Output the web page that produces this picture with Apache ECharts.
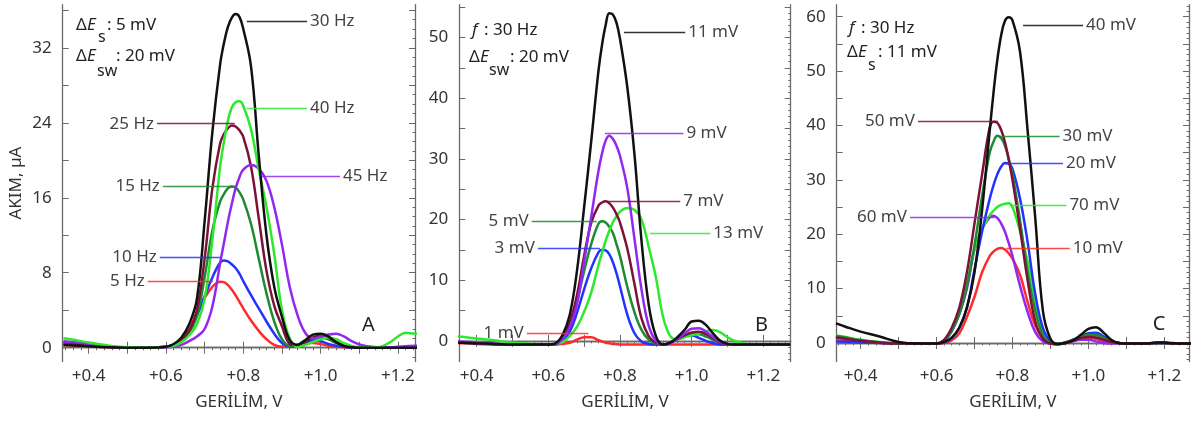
<!DOCTYPE html>
<html><head><meta charset="utf-8">
<script src="https://cdn.jsdelivr.net/npm/echarts@6/dist/echarts.min.js"></script>
<style>html,body{margin:0;padding:0;background:#fff}#c{width:1199px;height:421px}</style>
</head><body><div id="c"></div>
<script>
// ---------- DATA ----------
const potential = [0.335,0.36,0.40,0.45,0.50,0.55,0.60,0.62,0.64,0.66,0.68,0.70,0.72,0.74,0.75,0.76,0.77,0.78,0.79,0.80,0.82,0.84,0.86,0.88,0.90,0.92,0.94,0.96,0.98,1.00,1.02,1.04,1.06,1.08,1.10,1.12,1.15,1.18,1.20,1.22,1.245,1.275];

// Panel A : frequency (ΔEs 5 mV, ΔEsw 20 mV)
const A_5Hz  = [0.3,0.25,0.15,0.05,0,0,0.1,0.3,0.8,1.9,3.8,5.3,6.5,7.05,7.0,6.7,6.2,5.6,4.9,4.2,2.9,1.8,0.9,0.3,0.1,0.1,0.3,0.5,0.5,0.4,0.2,0.1,0.05,0,0,0,0,0,0,0,0,0];
const A_10Hz = [0.4,0.35,0.2,0.1,0,0,0.1,0.3,0.8,1.8,3.4,5.5,7.5,9.1,9.3,9.2,8.9,8.5,7.9,7.1,5.6,4.2,2.8,1.5,0.5,0.15,0.3,0.6,0.8,0.7,0.4,0.2,0.1,0,0,0,0,0,0,0,0,0];
const A_15Hz = [0.5,0.4,0.25,0.1,0,0,0.1,0.3,0.7,1.6,3.4,7.5,12.5,15.6,16.4,17.0,17.2,17.1,16.6,15.8,13.2,9.5,5.8,2.8,0.9,0.2,0.3,0.8,1.0,1.1,0.9,0.5,0.2,0.05,0,0,0,0,0,0,0,0];
const A_25Hz = [0.6,0.5,0.3,0.1,0,0,0.1,0.3,0.8,1.8,4.0,9.5,17.0,21.8,22.8,23.4,23.7,23.6,23.2,22.5,19.3,13.8,8.2,4.5,2.3,0.4,0.2,0.6,1.1,1.3,1.1,0.6,0.2,0.05,0,0,0,0,0,0,0,0];
const A_30Hz = [0.3,0.25,0.15,0.05,0,0,0.1,0.4,1.1,2.5,5.2,13.5,23.0,30.2,32.5,34.2,35.2,35.6,35.3,34.0,30.0,20.5,12.0,6.5,3.3,0.8,0.3,0.8,1.4,1.5,1.2,0.6,0.2,0.05,0,0,0,0,0,0,0,0];
const A_40Hz = [1.0,0.85,0.55,0.25,0.05,0,0.1,0.2,0.6,1.3,2.5,5.2,11.5,19.3,22.0,24.2,25.6,26.2,26.3,25.8,23.3,19.0,15.0,10.0,4.0,1.0,0.1,0.3,0.6,0.9,1.1,0.9,0.5,0.2,0.05,0,0.05,0.6,1.2,1.6,1.5,1.5];
const A_45Hz = [0.7,0.6,0.4,0.15,0,0,0.05,0.1,0.3,0.7,1.2,2.0,4.4,9.0,11.2,13.4,15.3,17.0,18.2,19.0,19.5,19.1,17.8,15.0,11.0,6.5,3.5,1.6,1.0,1.2,1.4,1.5,1.2,0.7,0.35,0.15,0.05,0.05,0.1,0.15,0.2,0.2];

// Panel B : step potential ΔEs (f 30 Hz, ΔEsw 20 mV)
const B_1mV  = [-0.4,-0.4,-0.5,-0.6,-0.6,-0.6,-0.6,-0.6,-0.5,-0.3,0.2,0.6,0.6,0.1,-0.1,-0.3,-0.4,-0.5,-0.55,-0.6,-0.6,-0.6,-0.6,-0.6,-0.6,-0.6,-0.6,-0.6,-0.6,-0.6,-0.6,-0.6,-0.6,-0.6,-0.6,-0.6,-0.6,-0.6,-0.6,-0.6,-0.6,-0.6];
const B_3mV  = [-0.3,-0.3,-0.4,-0.5,-0.6,-0.6,-0.6,-0.6,0.0,1.5,4.6,8.5,12.0,14.6,15.0,14.9,14.3,13.0,11.2,9.0,4.4,1.3,-0.1,-0.5,-0.6,-0.6,-0.3,0.3,0.8,0.9,0.5,0.0,-0.4,-0.6,-0.6,-0.6,-0.6,-0.6,-0.6,-0.6,-0.6,-0.6];
const B_5mV  = [-0.3,-0.3,-0.4,-0.5,-0.6,-0.6,-0.6,-0.5,0.5,2.8,6.5,11.5,16.0,19.3,19.7,19.5,18.8,17.8,16.0,14.0,9.0,4.8,1.8,0.2,-0.4,-0.6,-0.3,0.3,0.8,1.1,1.1,0.7,0.2,-0.3,-0.6,-0.6,-0.6,-0.6,-0.6,-0.6,-0.6,-0.6];
const B_7mV  = [-0.3,-0.3,-0.4,-0.5,-0.6,-0.6,-0.6,-0.5,0.5,3.0,7.5,14.0,19.5,22.3,22.8,23.0,22.7,22.0,20.9,19.5,15.3,9.5,3.7,0.8,-0.3,-0.6,-0.3,0.3,0.9,1.4,1.5,1.1,0.4,-0.3,-0.6,-0.6,-0.6,-0.6,-0.6,-0.6,-0.6,-0.6];
const B_9mV  = [-0.1,-0.1,-0.3,-0.5,-0.6,-0.6,-0.6,-0.5,0.3,2.2,6.0,13.0,20.5,28.0,30.9,33.0,33.8,33.3,32.2,30.5,25.3,17.0,8.5,2.5,0.0,-0.6,-0.4,0.3,1.2,2.0,2.1,1.5,0.6,-0.2,-0.6,-0.6,-0.6,-0.6,-0.6,-0.6,-0.6,-0.6];
const B_11mV = [-0.3,-0.3,-0.4,-0.5,-0.6,-0.6,-0.6,-0.4,1.0,4.3,11.5,22.0,33.0,44.5,48.8,52.0,54.0,53.8,52.5,49.8,42.0,31.0,16.5,6.0,0.8,-0.6,-0.3,0.6,1.8,3.2,3.3,2.6,1.2,0.0,-0.5,-0.6,-0.6,-0.6,-0.6,-0.6,-0.6,-0.6];
const B_13mV = [0.8,0.66,0.4,0.1,-0.3,-0.5,-0.6,-0.5,-0.2,0.8,2.3,4.8,8.0,12.5,14.5,16.5,18.1,19.5,20.5,21.3,21.9,21.6,20.0,15.5,10.5,4.0,0.8,0.2,0.6,0.9,1.2,1.6,1.8,1.4,0.6,0.0,-0.5,-0.6,-0.6,-0.6,-0.6,-0.6];

// Panel C : amplitude ΔEsw (f 30 Hz, ΔEs 11 mV)
const C_10mV = [0.5,0.4,0.2,0.0,-0.1,-0.1,-0.1,0.0,0.5,1.8,4.8,8.5,13.0,16.0,16.8,17.3,17.45,17.2,16.5,15.5,12.5,7.5,3.2,0.8,-0.1,-0.2,0.0,0.4,0.8,1.0,0.8,0.4,0.1,0.0,-0.1,-0.1,-0.1,0.0,0.0,-0.1,-0.1,-0.1];
const C_20mV = [0.3,0.25,0.1,0.0,-0.1,-0.1,-0.1,0.1,0.9,2.8,6.5,13.5,20.5,26.5,29.0,31.0,32.4,33.1,33.0,32.0,26.5,18.5,9.0,2.8,0.3,-0.2,0.1,0.6,1.2,1.8,1.9,1.2,0.4,0.0,-0.1,-0.1,-0.1,0.0,0.0,-0.1,-0.1,-0.1];
const C_30mV = [1.3,1.0,0.5,0.1,-0.1,-0.1,-0.1,0.4,2.2,5.3,10.5,18.0,27.0,35.0,37.0,38.1,37.7,36.3,33.9,31.0,22.5,13.0,6.0,1.5,0.0,-0.2,0.1,0.6,1.1,1.5,1.5,0.9,0.3,0.0,-0.1,-0.1,-0.1,0.0,0.0,-0.1,-0.1,-0.1];
const C_40mV = [3.6,3.0,2.1,1.2,0.2,-0.1,-0.1,0.2,1.0,2.8,6.5,13.0,24.5,39.0,46.0,52.0,56.5,59.2,59.9,59.3,53.5,39.0,23.0,6.0,0.8,-0.2,0.0,0.5,1.5,2.6,2.9,1.9,0.6,0.0,-0.1,-0.1,-0.1,0.1,0.1,0.0,-0.1,-0.1];
const C_50mV = [1.0,0.8,0.4,0.1,-0.1,-0.1,-0.1,0.6,2.8,6.5,13.0,22.0,31.0,39.6,40.7,40.5,39.2,37.0,33.8,30.0,21.0,11.5,4.0,0.8,-0.1,-0.2,0.1,0.5,0.9,1.1,1.0,0.6,0.2,0.0,-0.1,-0.1,-0.1,0.0,0.0,-0.1,-0.1,-0.1];
const C_60mV = [1.1,0.8,0.4,0.1,-0.1,-0.1,-0.1,0.4,2.2,5.3,10.0,17.2,21.0,23.1,23.4,23.0,22.0,20.5,18.4,16.0,10.5,5.7,2.0,0.3,-0.1,-0.2,0.0,0.3,0.6,0.6,0.3,0.0,-0.1,-0.1,-0.1,-0.1,-0.1,0.0,0.0,-0.1,-0.1,-0.1];
const C_70mV = [1.4,1.1,0.6,0.2,0.0,-0.1,-0.1,0.5,2.2,6.0,11.0,17.3,21.0,23.5,24.3,25.0,25.4,25.6,25.7,25.0,20.5,15.0,8.0,2.5,0.4,-0.1,0.1,0.6,1.1,1.4,1.4,0.9,0.3,0.0,-0.1,-0.1,-0.1,0.0,0.0,-0.1,-0.1,-0.1];

// tick labels
const xLabelValues = [0.4, 0.6, 0.8, 1.0, 1.2];
const xTickValues = [0.4, 0.5, 0.6, 0.7, 0.8, 0.9, 1.0, 1.1, 1.2];
const A_yLabels = [0, 8, 16, 24, 32];
const A_yTicks = [0, 4, 8, 12, 16, 20, 24, 28, 32, 36];
const B_yLabels = [0, 10, 20, 30, 40, 50];
const B_yTicks = [0, 5, 10, 15, 20, 25, 30, 35, 40, 45, 50, 55];
const C_yLabels = [0, 10, 20, 30, 40, 50, 60];
const C_yTicks = [0, 5, 10, 15, 20, 25, 30, 35, 40, 45, 50, 55, 60];

// ---------- STYLE / LAYOUT ----------
const FONT = 'Noto Sans';
const COL = {black:'#111111', red:'#ff2b2b', blue:'#2233ff', dgreen:'#1e8a32', maroon:'#7d1238', green:'#2ee82e', purple:'#9228f0'};
const panels = [
  {left:62.7, width:352.3, xmin:0.333, xmax:1.244, ymin:-1.47, ymax:36.6, yLabels:A_yLabels, yTicks:A_yTicks, yMinorStep:1, yName:'AKIM, µA'},
  {left:459.3, width:331.4, xmin:0.352, xmax:1.276, ymin:-3.4, ymax:55.4, yLabels:B_yLabels, yTicks:B_yTicks, yMinorStep:1, yName:''},
  {left:836.7, width:352.3, xmin:0.337, xmax:1.265, ymin:-3.4, ymax:62.2, yLabels:C_yLabels, yTicks:C_yTicks, yMinorStep:1, yName:''}
];
// series: [panel, name, values, color, leader {x1,x2,y,side}]
const seriesDefs = [
  [0,'5 Hz',A_5Hz,COL.red,{x1:0.553,x2:0.722,y:7.05,side:'start'}],
  [0,'10 Hz',A_10Hz,COL.blue,{x1:0.584,x2:0.740,y:9.66,side:'start'}],
  [0,'15 Hz',A_15Hz,COL.dgreen,{x1:0.592,x2:0.773,y:17.2,side:'start'}],
  [0,'25 Hz',A_25Hz,COL.maroon,{x1:0.577,x2:0.778,y:23.9,side:'start'}],
  [0,'45 Hz',A_45Hz,COL.purple,{x1:0.848,x2:1.050,y:18.3,side:'end'}],
  [0,'40 Hz',A_40Hz,COL.green,{x1:0.809,x2:0.965,y:25.6,side:'end'}],
  [0,'30 Hz',A_30Hz,COL.black,{x1:0.809,x2:0.965,y:34.8,side:'end'}],

  [1,'1 mV',B_1mV,COL.red,{x1:0.540,x2:0.712,y:1.3,side:'start'}],
  [1,'3 mV',B_3mV,COL.blue,{x1:0.571,x2:0.744,y:15.3,side:'start'}],
  [1,'5 mV',B_5mV,COL.dgreen,{x1:0.554,x2:0.735,y:19.7,side:'start'}],
  [1,'13 mV',B_13mV,COL.green,{x1:0.884,x2:1.052,y:17.8,side:'end'}],
  [1,'7 mV',B_7mV,COL.maroon,{x1:0.763,x2:0.968,y:23.0,side:'end'}],
  [1,'9 mV',B_9mV,COL.purple,{x1:0.758,x2:0.977,y:34.2,side:'end'}],
  [1,'11 mV',B_11mV,COL.black,{x1:0.811,x2:0.982,y:50.9,side:'end'}],

  [2,'10 mV',C_10mV,COL.red,{x1:0.784,x2:0.951,y:17.45,side:'end'}],
  [2,'60 mV',C_60mV,COL.purple,{x1:0.530,x2:0.753,y:23.1,side:'start'}],
  [2,'70 mV',C_70mV,COL.green,{x1:0.793,x2:0.942,y:25.4,side:'end'}],
  [2,'20 mV',C_20mV,COL.blue,{x1:0.780,x2:0.933,y:33.1,side:'end'}],
  [2,'30 mV',C_30mV,COL.dgreen,{x1:0.762,x2:0.924,y:38.1,side:'end'}],
  [2,'50 mV',C_50mV,COL.maroon,{x1:0.551,x2:0.762,y:40.8,side:'start'}],
  [2,'40 mV',C_40mV,COL.black,{x1:0.828,x2:0.986,y:58.35,side:'end'}]
];

function steps(lo, hi, step) { const out = []; for (let k = Math.ceil(lo / step); k * step <= hi + 1e-9; k++) out.push(+(k * step).toFixed(4)); return out; }

const AXIS_COLOR = '#6a6a6a';
const grid = [], xAxis = [], yAxis = [];
const xIdx = [], yIdx = [];
panels.forEach((p, i) => {
  grid.push({left:p.left, top:4.7, width:p.width, height:356.8, containLabel:false});
  const xBase = {gridIndex:i, type:'value', min:p.xmin, max:p.xmax, splitLine:{show:false}};
  const yBase = {gridIndex:i, type:'value', min:p.ymin, max:p.ymax, splitLine:{show:false}};
  xIdx.push(xAxis.length);
  xAxis.push(Object.assign({}, xBase, {position:'bottom',
    axisLine:{show:true, lineStyle:{color:AXIS_COLOR, width:1.3}},
    axisTick:{show:true, inside:true, length:6, customValues:xTickValues, lineStyle:{color:AXIS_COLOR}},
    axisLabel:{show:true, customValues:xLabelValues, margin:6, color:'#333', fontFamily:FONT, fontSize:17,
      formatter:v => '+' + Number(v).toFixed(1)},
    name:'GERİLİM, V', nameLocation:'middle', nameGap:32,
    nameTextStyle:{fontFamily:FONT, fontSize:17, color:'#333'}}));
  xAxis.push(Object.assign({}, xBase, {position:'top',
    axisLine:{show:true, lineStyle:{color:AXIS_COLOR, width:1.3}},
    axisTick:{show:true, inside:true, length:6, customValues:xTickValues, lineStyle:{color:AXIS_COLOR}},
    axisLabel:{show:false}}));
  // minor ticks (top frame)
  xAxis.push(Object.assign({}, xBase, {position:'top', axisLine:{show:false},
    axisTick:{show:true, inside:true, length:2.5, customValues:steps(p.xmin, p.xmax, 0.02), lineStyle:{color:AXIS_COLOR, width:1}},
    axisLabel:{show:false}}));
  yIdx.push(yAxis.length);
  yAxis.push(Object.assign({}, yBase, {position:'left',
    axisLine:{show:true, lineStyle:{color:AXIS_COLOR, width:1.3}},
    axisTick:{show:true, inside:true, length:6, customValues:p.yTicks, lineStyle:{color:AXIS_COLOR}},
    axisLabel:{show:true, customValues:p.yLabels, margin:11, color:'#333', fontFamily:FONT, fontSize:17},
    name:p.yName, nameLocation:'middle', nameGap:38,
    nameTextStyle:{fontFamily:FONT, fontSize:17, color:'#333'}}));
  yAxis.push(Object.assign({}, yBase, {position:'right',
    axisLine:{show:true, lineStyle:{color:AXIS_COLOR, width:1.3}},
    axisTick:{show:true, inside:true, length:6, customValues:p.yTicks, lineStyle:{color:AXIS_COLOR}},
    axisLabel:{show:false}}));
  // minor ticks (right frame)
  yAxis.push(Object.assign({}, yBase, {position:'right', axisLine:{show:false},
    axisTick:{show:true, inside:true, length:2.5, customValues:steps(p.ymin, p.ymax, p.yMinorStep), lineStyle:{color:AXIS_COLOR, width:1}},
    axisLabel:{show:false}}));
});

const series = seriesDefs.map(([pi, name, vals, color, ld]) => ({
  type:'line', name, xAxisIndex:xIdx[pi], yAxisIndex:yIdx[pi],
  data: potential.map((x, k) => [x, vals[k]]),
  smooth:0.4, showSymbol:false, symbol:'none',
  lineStyle:{color, width:2.5}, itemStyle:{color},
  markLine:{silent:true, symbol:['none','none'], animation:false,
    lineStyle:{color, width:1.4, type:'solid', opacity:0.85},
    label:{show:true, position:ld.side, distance:3, formatter:name,
      fontFamily:FONT, fontSize:17, color:'#222'},
    emphasis:{disabled:true},
    data:[[{coord:[ld.x1, ld.y]}, {coord:[ld.x2, ld.y]}]]}
}));

// condition texts & panel letters (annotations)
function t(x, y, text, opt) {
  return Object.assign({type:'text', x, y, silent:true, style:Object.assign({text, fill:'#222',
    fontFamily:FONT, fontSize:17, textVerticalAlign:'middle', verticalAlign:'middle'}, opt || {})});
}
const IT = {fontStyle:'italic'};
const SUB = {fontSize:16};
const graphic = [
  // Panel A
  t(76, 25.5, 'Δ'), t(87, 25.5, 'E', IT), t(98, 37, 's', SUB), t(107, 25.5, ': 5 mV'),
  t(76, 56, 'Δ'), t(87, 56, 'E', IT), t(97, 71, 'sw', SUB), t(116, 56, ': 20 mV'),
  // Panel B
  t(472, 30, 'f', IT), t(484, 30, ': 30 Hz'),
  t(469, 57, 'Δ'), t(480, 57, 'E', IT), t(489, 70, 'sw', SUB), t(510, 57, ': 20 mV'),
  // Panel C
  t(849, 28, 'f', IT), t(861, 28, ': 30 Hz'),
  t(847, 52, 'Δ'), t(858, 52, 'E', IT), t(868, 65, 's', SUB), t(878, 52, ': 11 mV'),
  // panel letters
  t(368.5, 325, 'A', {fontSize:20, textAlign:'center', align:'center'}),
  t(761.5, 325, 'B', {fontSize:20, textAlign:'center', align:'center'}),
  t(1159, 324, 'C', {fontSize:20, textAlign:'center', align:'center'})
];

const chart = echarts.init(document.getElementById('c'), null, {renderer:'canvas'});
chart.setOption({animation:false, backgroundColor:'#fff', grid, xAxis, yAxis, series, graphic,
  textStyle:{fontFamily:FONT}});
</script></body></html>
